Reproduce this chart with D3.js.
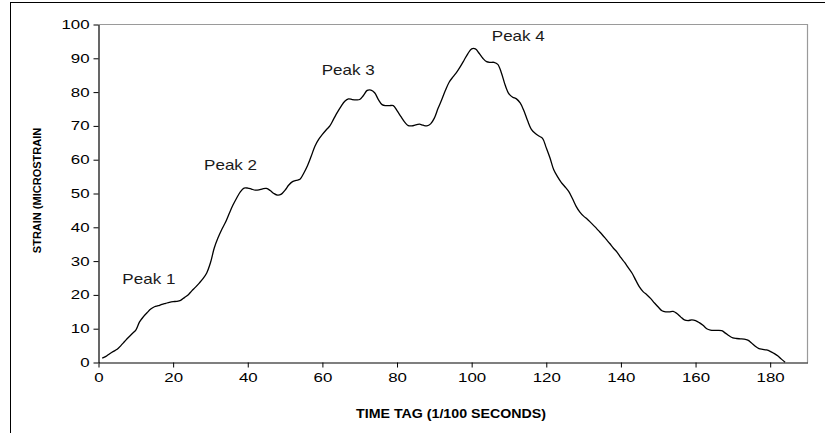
<!DOCTYPE html>
<html>
<head>
<meta charset="utf-8">
<script src="https://cdn.jsdelivr.net/npm/d3@7/dist/d3.min.js"></script>
<style>
  html, body { margin: 0; padding: 0; background: #fff; }
  svg { display: block; }
</style>
</head>
<body>
<svg id="chart" width="825" height="433"></svg>
<script>
// ---- data ----
const strain = [
  1.3, 1.8, 2.6, 3.3, 3.9, 5.0, 6.2, 7.4, 8.5, 9.6,
  12.0, 13.5, 14.7, 15.8, 16.5, 16.8, 17.2, 17.5, 17.8, 18.0,
  18.1, 18.4, 19.2, 20.0, 21.2, 22.3, 23.5, 24.8, 26.5, 29.5,
  33.8, 36.8, 39.3, 41.4, 44.0, 46.5, 48.6, 50.5, 51.6, 51.6,
  51.3, 51.0, 51.1, 51.4, 51.5, 50.9, 50.0, 49.5, 49.8, 51.0,
  52.5, 53.5, 53.9, 54.2, 56.0, 58.2, 61.0, 64.0, 66.0, 67.5,
  68.8, 70.0, 72.0, 74.0, 75.8, 77.3, 78.0, 77.8, 77.7, 77.8,
  79.0, 80.5, 80.6, 79.8, 77.8, 76.3, 76.0, 76.0, 76.0, 74.5,
  72.8, 71.2, 70.1, 70.0, 70.3, 70.5, 70.2, 70.0, 70.6, 72.3,
  75.2, 77.8, 80.6, 83.0, 84.5, 85.9, 87.6, 89.5, 91.4, 92.8,
  92.8, 91.5, 90.0, 89.0, 88.8, 88.8, 88.2, 85.6, 82.0, 79.5,
  78.5, 78.0, 76.8, 74.5, 71.5, 69.0, 67.8, 67.0, 66.3, 63.5,
  60.5, 57.0, 55.0, 53.3, 52.0, 50.6, 48.5, 46.2, 44.5, 43.3,
  42.4, 41.3, 40.2, 39.0, 37.8, 36.5, 35.2, 33.8, 32.6, 31.0,
  29.6, 28.0, 26.4, 24.3, 22.3, 20.9, 20.0, 18.9, 17.6, 16.4,
  15.3, 15.0, 15.0, 15.1, 14.5, 13.5, 12.6, 12.4, 12.6, 12.4,
  11.8, 11.0, 10.0, 9.6, 9.5, 9.5, 9.4, 8.7, 7.9, 7.3,
  7.1, 7.0, 6.9, 6.6, 5.8, 4.8, 4.1, 3.9, 3.7, 3.3,
  2.7, 2.0, 1.0, 0.1
];
const timeTag = strain.map((d, i) => i + 1);   // 1 .. 184 (1/100 s)

const xTicks = [0, 20, 40, 60, 80, 100, 120, 140, 160, 180];
const yTicks = [0, 10, 20, 30, 40, 50, 60, 70, 80, 90, 100];

const peakLabels = ["Peak 1", "Peak 2", "Peak 3", "Peak 4"];
const peakX = [6.4, 28.3, 59.8, 105.4];
const peakY = [23.2, 57.0, 85.1, 95.0];

const xTitle = "TIME TAG (1/100 SECONDS)";
const yTitle = "STRAIN (MICROSTRAIN";

// ---- layout ----
const svg = d3.select("#chart");
const pLeft = 98.5, pRight = 807.5, pTop = 24.5, pBottom = 362.5;

const x = d3.scaleLinear().domain([0, 190]).range([pLeft, pRight]);
const y = d3.scaleLinear().domain([0, 100]).range([pBottom, pTop]);

// outer frame
svg.append("rect")
  .attr("x", 10.5).attr("y", 2.5)
  .attr("width", 830).attr("height", 440)
  .attr("fill", "none").attr("stroke", "#000").attr("stroke-width", 1);

// plot area border (top & right, gray)
svg.append("path")
  .attr("d", `M${pLeft},${pTop}H${pRight}V${pBottom}`)
  .attr("fill", "none").attr("stroke", "#9a9a9a").attr("stroke-width", 1.2);

// line
const line = d3.line()
  .x((d, i) => x(timeTag[i]))
  .y(d => y(d))
  .curve(d3.curveCatmullRom.alpha(0.5));

svg.append("path")
  .datum(strain)
  .attr("d", line)
  .attr("fill", "none")
  .attr("stroke", "#000")
  .attr("stroke-width", 1.3);

// axes
const xAxis = d3.axisBottom(x).tickValues(xTicks).tickSize(5).tickSizeOuter(0).tickPadding(6);
const yAxis = d3.axisLeft(y).tickValues(yTicks).tickSize(5).tickSizeOuter(0).tickPadding(9);

const gx = svg.append("g").attr("transform", `translate(0,${pBottom})`).call(xAxis);
const gy = svg.append("g").attr("transform", `translate(${pLeft},0)`).call(yAxis);

[gx, gy].forEach(g => {
  g.select(".domain").attr("stroke", "#000").attr("stroke-width", 1.2);
  g.selectAll(".tick line").attr("stroke", "#000");
  g.selectAll(".tick text")
    .attr("fill", "#000")
    .style("font-family", "'Liberation Sans', Arial, sans-serif")
    .style("font-size", "12.5px");
});
// horizontally wider glyphs as in the reference
gx.selectAll(".tick text").attr("transform", "scale(1.35,1)")
  .attr("x", 0);
gy.selectAll(".tick text").attr("transform", "scale(1.35,1)")
  .attr("x", -9 / 1.35);

// peak labels
svg.append("g").selectAll("text")
  .data(peakLabels)
  .join("text")
  .attr("x", (d, i) => x(peakX[i]))
  .attr("y", (d, i) => y(peakY[i]))
  .attr("textLength", 53)
  .attr("lengthAdjust", "spacingAndGlyphs")
  .attr("fill", "#1a1a1a")
  .style("font-family", "'Liberation Sans', Arial, sans-serif")
  .style("font-size", "14.5px")
  .text(d => d);

// axis titles
svg.append("text")
  .attr("x", (pLeft + pRight) / 2 - 2)
  .attr("y", 417.5)
  .attr("text-anchor", "middle")
  .attr("textLength", 190)
  .attr("lengthAdjust", "spacingAndGlyphs")
  .attr("fill", "#000")
  .style("font-family", "'Liberation Sans', Arial, sans-serif")
  .style("font-weight", "bold")
  .style("font-size", "12.3px")
  .text(xTitle);

svg.append("text")
  .attr("transform", `translate(40.5,${(pTop + pBottom) / 2 - 3}) rotate(-90)`)
  .attr("text-anchor", "middle")
  .attr("fill", "#000")
  .style("font-family", "'Liberation Sans', Arial, sans-serif")
  .style("font-weight", "bold")
  .style("font-size", "11px")
  .text(yTitle);
</script>
</body>
</html>
